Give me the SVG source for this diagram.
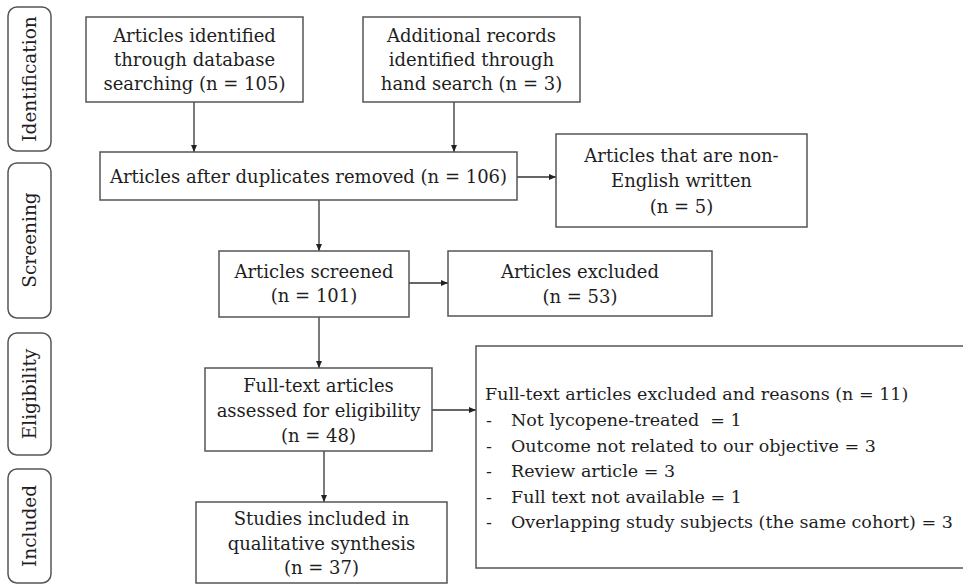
<svg xmlns="http://www.w3.org/2000/svg" width="963" height="585" viewBox="0 0 963 585">
<style>
text{font-family:"DejaVu Serif","Liberation Serif",serif;font-size:18px;fill:#1e1e1e;}
.box{fill:#fff;stroke:#555;stroke-width:1.5;}
.side{fill:#fff;stroke:#555;stroke-width:1.5;}
.c{text-anchor:middle;}
.r{font-size:17.5px;}
.sl{font-size:18.5px;text-anchor:middle;}
.con{stroke:#333;stroke-width:1.3;fill:none;marker-end:url(#ah);}
</style>
<defs>
<marker id="ah" markerWidth="8" markerHeight="8" refX="7" refY="4" orient="auto" markerUnits="userSpaceOnUse">
<path d="M0,1 L7,4 L0,7 Z" fill="#222"/>
</marker>
</defs>
<rect width="963" height="585" fill="#fff"/>
<g id="side-identification"><rect class="side" x="8" y="7" width="43" height="144" rx="9"/><text class="sl" transform="translate(36,79) rotate(-90)">Identification</text></g>
<g id="side-screening"><rect class="side" x="8" y="163" width="43" height="155" rx="9"/><text class="sl" transform="translate(36,240) rotate(-90)">Screening</text></g>
<g id="side-eligibility"><rect class="side" x="8" y="333" width="43" height="122" rx="9"/><text class="sl" transform="translate(36,394) rotate(-90)">Eligibility</text></g>
<g id="side-included"><rect class="side" x="8" y="469" width="43" height="114" rx="9"/><text class="sl" transform="translate(36,526) rotate(-90)">Included</text></g>

<g id="connectors">
<line class="con" x1="194" y1="102" x2="194" y2="152"/>
<line class="con" x1="454" y1="102" x2="454" y2="152"/>
<line class="con" x1="517" y1="177" x2="556" y2="177"/>
<line class="con" x1="319" y1="200" x2="319" y2="251"/>
<line class="con" x1="409" y1="283" x2="448" y2="283"/>
<line class="con" x1="319" y1="317" x2="319" y2="368"/>
<line class="con" x1="432" y1="410" x2="476" y2="410"/>
<line class="con" x1="324" y1="451" x2="324" y2="502"/>
</g>

<g id="n-database"><rect class="box" x="86" y="17" width="217" height="85"/>
<text class="c" x="194.5" y="42">Articles identified</text>
<text class="c" x="194.5" y="66">through database</text>
<text class="c" x="194.5" y="90">searching (n = 105)</text></g>

<g id="n-hand"><rect class="box" x="363" y="17" width="217" height="85"/>
<text class="c" x="471.5" y="42">Additional records</text>
<text class="c" x="471.5" y="66">identified through</text>
<text class="c" x="471.5" y="90">hand search (n = 3)</text></g>

<g id="n-duplicates"><rect class="box" x="100" y="152" width="417" height="48"/>
<text class="c" x="308.5" y="183">Articles after duplicates removed (n = 106)</text></g>

<g id="n-nonenglish"><rect class="box" x="556" y="134" width="251" height="93"/>
<text class="c" x="681.5" y="162">Articles that are non-</text>
<text class="c" x="681.5" y="187">English written</text>
<text class="c" x="681.5" y="213">(n = 5)</text></g>

<g id="n-screened"><rect class="box" x="219" y="251" width="190" height="66"/>
<text class="c" x="314" y="278">Articles screened</text>
<text class="c" x="314" y="302">(n = 101)</text></g>

<g id="n-excluded"><rect class="box" x="448" y="251" width="264" height="65"/>
<text class="c" x="580" y="278">Articles excluded</text>
<text class="c" x="580" y="303">(n = 53)</text></g>

<g id="n-fulltext"><rect class="box" x="205" y="368" width="227" height="83"/>
<text class="c" x="318.5" y="392">Full-text articles</text>
<text class="c" x="318.5" y="417">assessed for eligibility</text>
<text class="c" x="318.5" y="442">(n = 48)</text></g>

<g id="n-reasons"><rect class="box" x="476" y="346" width="494" height="222"/>
<text class="r" x="485" y="400">Full-text articles excluded and reasons (n = 11)</text>
<text class="r" x="486" y="426">-</text><text class="r" x="511" y="426" xml:space="preserve">Not lycopene-treated  = 1</text>
<text class="r" x="486" y="452">-</text><text class="r" x="511" y="452">Outcome not related to our objective = 3</text>
<text class="r" x="486" y="477">-</text><text class="r" x="511" y="477">Review article = 3</text>
<text class="r" x="486" y="503">-</text><text class="r" x="511" y="503">Full text not available = 1</text>
<text class="r" x="486" y="528">-</text><text class="r" x="511" y="528">Overlapping study subjects (the same cohort) = 3</text></g>

<g id="n-included"><rect class="box" x="196" y="502" width="251" height="81"/>
<text class="c" x="321.5" y="525">Studies included in</text>
<text class="c" x="321.5" y="550">qualitative synthesis</text>
<text class="c" x="321.5" y="574">(n = 37)</text></g>
</svg>
